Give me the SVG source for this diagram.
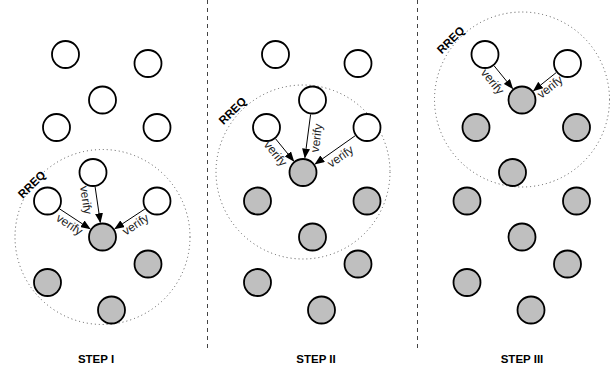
<svg xmlns="http://www.w3.org/2000/svg" width="616" height="369" viewBox="0 0 616 369">
<style>
.w{fill:#fff;stroke:#000;stroke-width:1.8}
.g{fill:#bfbfbf;stroke:#000;stroke-width:1.8}
.zone{fill:none;stroke:#555;stroke-width:1;stroke-dasharray:1 3}
.sep{stroke:#444;stroke-width:1;stroke-dasharray:4 4}
.edge{stroke:#000;stroke-width:1;fill:none;marker-end:url(#ah)}
.lbl{font-family:"Liberation Sans",Arial,sans-serif;font-size:12px;fill:#222;text-anchor:middle;dominant-baseline:central}
.rreq{font-family:"Liberation Sans",Arial,sans-serif;font-size:11.5px;font-weight:bold;fill:#000;text-anchor:middle;dominant-baseline:central}
.step{font-family:"Liberation Sans",Arial,sans-serif;font-size:11.5px;font-weight:bold;fill:#000;text-anchor:middle}
</style>
<defs>
<marker id="ah" markerWidth="10" markerHeight="8" refX="9" refY="4" orient="auto" markerUnits="userSpaceOnUse">
<path d="M0,0 L10,4 L0,8 Z" fill="#000"/>
</marker>
</defs>
<g id="separators">
<line class="sep" x1="207.5" y1="0" x2="207.5" y2="350"/>
<line class="sep" x1="417.5" y1="0" x2="417.5" y2="350"/>
</g>
<g id="zones">
<circle class="zone" cx="102.5" cy="237" r="87.5"/>
<circle class="zone" cx="303" cy="172" r="87"/>
<circle class="zone" cx="522" cy="99.5" r="87.5"/>
<text class="rreq" transform="translate(31.7,184.5) rotate(-45)">RREQ</text>
<text class="rreq" transform="translate(232.5,110.8) rotate(-45)">RREQ</text>
<text class="rreq" transform="translate(450.7,40) rotate(-45)">RREQ</text>
</g>
<g id="step1">
<g id="s1A"><circle class="w" cx="65.5" cy="54.5" r="13.5"/></g>
<g id="s1B"><circle class="w" cx="148" cy="63.5" r="13.5"/></g>
<g id="s1C"><circle class="w" cx="102.5" cy="100" r="13.5"/></g>
<g id="s1D"><circle class="w" cx="56.5" cy="127.5" r="13.5"/></g>
<g id="s1E"><circle class="w" cx="157" cy="127.5" r="13.5"/></g>
<g id="s1F"><circle class="w" cx="93" cy="172.5" r="13.5"/></g>
<g id="s1G"><circle class="w" cx="47.5" cy="201" r="13.5"/></g>
<g id="s1H"><circle class="w" cx="157" cy="201" r="13.5"/></g>
<g id="s1I"><circle class="g" cx="102.5" cy="237" r="13.5"/></g>
<g id="s1J"><circle class="g" cx="148" cy="264" r="13.5"/></g>
<g id="s1K"><circle class="g" cx="47.5" cy="282.5" r="13.5"/></g>
<g id="s1L"><circle class="g" cx="111.5" cy="310" r="13.5"/></g>
<text class="step" x="96" y="363">STEP I</text>
</g>
<g id="step2">
<g id="s2A"><circle class="w" cx="275.5" cy="54.5" r="13.5"/></g>
<g id="s2B"><circle class="w" cx="358" cy="63.5" r="13.5"/></g>
<g id="s2C"><circle class="w" cx="312.5" cy="100" r="13.5"/></g>
<g id="s2D"><circle class="w" cx="266.5" cy="127.5" r="13.5"/></g>
<g id="s2E"><circle class="w" cx="367" cy="127.5" r="13.5"/></g>
<g id="s2F"><circle class="g" cx="303" cy="172.5" r="13.5"/></g>
<g id="s2G"><circle class="g" cx="257.5" cy="201" r="13.5"/></g>
<g id="s2H"><circle class="g" cx="367" cy="201" r="13.5"/></g>
<g id="s2I"><circle class="g" cx="312.5" cy="237" r="13.5"/></g>
<g id="s2J"><circle class="g" cx="358" cy="264" r="13.5"/></g>
<g id="s2K"><circle class="g" cx="257.5" cy="282.5" r="13.5"/></g>
<g id="s2L"><circle class="g" cx="321.5" cy="310" r="13.5"/></g>
<text class="step" x="316" y="363">STEP II</text>
</g>
<g id="step3">
<g id="s3A"><circle class="w" cx="485" cy="54.5" r="13.5"/></g>
<g id="s3B"><circle class="w" cx="567.5" cy="63.5" r="13.5"/></g>
<g id="s3C"><circle class="g" cx="522" cy="100" r="13.5"/></g>
<g id="s3D"><circle class="g" cx="476" cy="127.5" r="13.5"/></g>
<g id="s3E"><circle class="g" cx="576.5" cy="127.5" r="13.5"/></g>
<g id="s3F"><circle class="g" cx="512.5" cy="172.5" r="13.5"/></g>
<g id="s3G"><circle class="g" cx="467" cy="201" r="13.5"/></g>
<g id="s3H"><circle class="g" cx="576.5" cy="201" r="13.5"/></g>
<g id="s3I"><circle class="g" cx="522" cy="237" r="13.5"/></g>
<g id="s3J"><circle class="g" cx="567.5" cy="264" r="13.5"/></g>
<g id="s3K"><circle class="g" cx="467" cy="282.5" r="13.5"/></g>
<g id="s3L"><circle class="g" cx="531" cy="310" r="13.5"/></g>
<text class="step" x="522" y="363">STEP III</text>
</g>
<g id="connectors">
<line class="edge" x1="95.1" y1="186.8" x2="100.3" y2="222.2"/>
<line class="edge" x1="59.6" y1="208.9" x2="89.9" y2="228.8"/>
<line class="edge" x1="144.9" y1="209" x2="115" y2="228.7"/>
<line class="edge" x1="310.6" y1="114.4" x2="304.9" y2="157.6"/>
<line class="edge" x1="275.6" y1="138.8" x2="293.6" y2="160.9"/>
<line class="edge" x1="355.1" y1="135.8" x2="315.3" y2="163.9"/>
<line class="edge" x1="494.1" y1="65.8" x2="512.5" y2="88.4"/>
<line class="edge" x1="556.2" y1="72.6" x2="533.7" y2="90.6"/>
<text class="lbl" transform="translate(86,200) rotate(81.6)">verify</text>
<text class="lbl" transform="translate(69.5,224.5) rotate(33.2)">verify</text>
<text class="lbl" transform="translate(135.5,224.5) rotate(-33.4)">verify</text>
<text class="lbl" transform="translate(316.5,138) rotate(-82.5)">verify</text>
<text class="lbl" transform="translate(275.5,153.5) rotate(51)">verify</text>
<text class="lbl" transform="translate(340.5,156.5) rotate(-35.1)">verify</text>
<text class="lbl" transform="translate(492.5,81.5) rotate(51)">verify</text>
<text class="lbl" transform="translate(550,87) rotate(-38.7)">verify</text>
</g>
</svg>
